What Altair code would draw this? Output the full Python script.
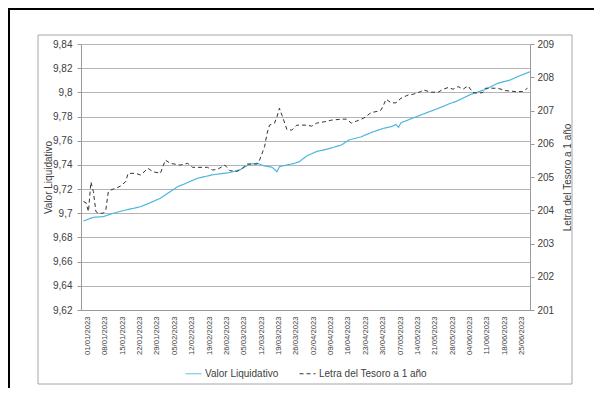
import altair as alt
import pandas as pd
from datetime import datetime, timezone

SERIES = ["Valor Liquidativo", "Letra del Tesoro a 1 año"]
COLORS = ["#4db6df", "#333333"]

FECHAS_VL = ["2023-01-01", "2023-01-05", "2023-01-09", "2023-01-13", "2023-01-18", "2023-01-24",
             "2023-01-28", "2023-02-01", "2023-02-04", "2023-02-08", "2023-02-12", "2023-02-16",
             "2023-02-22", "2023-03-01", "2023-03-05", "2023-03-09", "2023-03-12", "2023-03-15",
             "2023-03-18", "2023-03-20", "2023-03-21", "2023-03-24", "2023-03-27", "2023-03-29",
             "2023-04-01", "2023-04-05", "2023-04-09", "2023-04-15", "2023-04-18", "2023-04-23",
             "2023-04-27", "2023-05-02", "2023-05-05", "2023-05-07", "2023-05-08", "2023-05-09",
             "2023-05-17", "2023-05-24", "2023-05-29", "2023-05-31", "2023-06-06", "2023-06-12",
             "2023-06-17", "2023-06-22", "2023-06-25", "2023-06-30"]
VALOR_LIQ = [9.6936, 9.6967, 9.6972, 9.7000, 9.7027, 9.7054,
             9.7088, 9.7124, 9.7166, 9.7220, 9.7254, 9.7290,
             9.7318, 9.7337, 9.7359, 9.7406, 9.7413, 9.7391,
             9.7381, 9.7344, 9.7385, 9.7399, 9.7413, 9.7427,
             9.7474, 9.7511, 9.7529, 9.7565, 9.7606, 9.7633,
             9.7668, 9.7703, 9.7716, 9.7734, 9.7711, 9.7749,
             9.7813, 9.7868, 9.7910, 9.7923, 9.7982, 9.8024,
             9.8075, 9.8102, 9.8130, 9.8171]

FECHAS_LT = ["2023-01-01", "2023-01-02", "2023-01-03", "2023-01-04", "2023-01-05", "2023-01-06",
             "2023-01-07", "2023-01-09", "2023-01-10", "2023-01-11", "2023-01-12", "2023-01-14",
             "2023-01-16", "2023-01-18", "2023-01-19", "2023-01-22", "2023-01-24", "2023-01-27",
             "2023-01-29", "2023-02-01", "2023-02-03", "2023-02-05", "2023-02-09", "2023-02-12",
             "2023-02-14", "2023-02-20", "2023-02-22", "2023-02-24", "2023-02-27", "2023-03-01",
             "2023-03-04", "2023-03-06", "2023-03-08", "2023-03-12", "2023-03-13", "2023-03-15",
             "2023-03-16", "2023-03-17", "2023-03-19", "2023-03-20", "2023-03-21", "2023-03-22",
             "2023-03-24", "2023-03-26", "2023-03-28", "2023-04-01", "2023-04-03", "2023-04-05",
             "2023-04-08", "2023-04-11", "2023-04-15", "2023-04-17", "2023-04-19", "2023-04-21",
             "2023-04-24", "2023-04-27", "2023-04-30", "2023-05-01", "2023-05-02", "2023-05-03",
             "2023-05-05", "2023-05-07", "2023-05-09", "2023-05-12", "2023-05-14", "2023-05-17",
             "2023-05-18", "2023-05-21", "2023-05-24", "2023-05-26", "2023-05-28", "2023-05-30",
             "2023-06-01", "2023-06-03", "2023-06-05", "2023-06-07", "2023-06-09", "2023-06-11",
             "2023-06-12", "2023-06-17", "2023-06-20", "2023-06-24", "2023-06-27", "2023-06-29"]
LETRA = [204.26, 204.23, 203.96, 204.85, 204.56, 203.96,
         203.91, 203.91, 204.01, 204.55, 204.61, 204.66,
         204.73, 204.86, 205.11, 205.11, 205.06, 205.26,
         205.16, 205.11, 205.51, 205.41, 205.36, 205.41,
         205.29, 205.29, 205.21, 205.23, 205.36, 205.19,
         205.17, 205.26, 205.39, 205.39, 205.51, 205.91,
         206.31, 206.56, 206.62, 206.81, 207.07, 206.86,
         206.43, 206.41, 206.56, 206.56, 206.53, 206.62,
         206.66, 206.71, 206.74, 206.74, 206.62, 206.68,
         206.77, 206.94, 206.98, 207.02, 207.17, 207.34,
         207.23, 207.23, 207.37, 207.47, 207.49, 207.57,
         207.62, 207.55, 207.55, 207.64, 207.69, 207.64,
         207.72, 207.64, 207.74, 207.54, 207.52, 207.54,
         207.67, 207.67, 207.60, 207.57, 207.57, 207.67]

LEFT_TICKS = [9.62, 9.64, 9.66, 9.68, 9.70, 9.72, 9.74, 9.76, 9.78, 9.80, 9.82, 9.84]
RIGHT_TICKS = [201, 202, 203, 204, 205, 206, 207, 208, 209]
X_TICKS = ["2023-01-01", "2023-01-08", "2023-01-15", "2023-01-22", "2023-01-29", "2023-02-05",
           "2023-02-12", "2023-02-19", "2023-02-26", "2023-03-05", "2023-03-12", "2023-03-19",
           "2023-03-26", "2023-04-02", "2023-04-09", "2023-04-16", "2023-04-23", "2023-04-30",
           "2023-05-07", "2023-05-14", "2023-05-21", "2023-05-28", "2023-06-04", "2023-06-11",
           "2023-06-18", "2023-06-25"]
X_DOMAIN = ["2022-12-31", "2023-06-30"]


def ms(s):
    return int(datetime.strptime(s, "%Y-%m-%d").replace(tzinfo=timezone.utc).timestamp() * 1000)


df_v = pd.DataFrame({"fecha": [ms(d) for d in FECHAS_VL], "valor": VALOR_LIQ, "serie": SERIES[0]})
df_l = pd.DataFrame({"fecha": [ms(d) for d in FECHAS_LT], "letra": LETRA, "serie": SERIES[1]})

FONT = "Liberation Sans"
TXT = "#404040"
AX = "#9a9a9a"
W, H = 449, 266

x_enc = alt.X(
    "fecha:T",
    scale=alt.Scale(type="utc", domain=[ms(X_DOMAIN[0]), ms(X_DOMAIN[1])]),
    axis=alt.Axis(
        values=[ms(d) for d in X_TICKS],
        labelExpr="utcFormat(datum.value, '%d/%m/%Y')",
        labelAngle=270, labelAlign="right", labelBaseline="middle",
        labelFontSize=7.7, labelPadding=6, labelColor=TXT, labelFont=FONT,
        labelOffset=4,
        ticks=False, grid=False, domainColor=AX, title=None, labelOverlap=False,
        labelBound=False, labelFlush=False,
    ),
)

color_enc = alt.Color(
    "serie:N",
    scale=alt.Scale(domain=SERIES, range=COLORS),
    legend=alt.Legend(
        title=None, orient="none", direction="horizontal", legendX=104, legendY=321,
        symbolType="stroke", symbolSize=256, symbolStrokeWidth=1, labelFontSize=10,
        labelFont=FONT, labelColor=TXT, columnPadding=18, labelOffset=3, padding=0,
    ),
)
dash_enc = alt.StrokeDash("serie:N", scale=alt.Scale(domain=SERIES, range=[[1, 0], [4, 3]]), legend=None)

blue = alt.Chart(df_v).mark_line(strokeWidth=1.2).encode(
    x=x_enc,
    y=alt.Y(
        "valor:Q",
        scale=alt.Scale(domain=[9.62, 9.84], nice=False, zero=False),
        axis=alt.Axis(
            values=LEFT_TICKS,
            labelExpr="replace(format(datum.value, '.2~f'), '.', ',')",
            title="Valor Liquidativo", titleAngle=270, titleX=-33, titleY=H / 2,
            titleBaseline="middle", titleAlign="center",
            titleFontSize=10, titleFontWeight="normal", titleColor=TXT, titleFont=FONT,
            labelFontSize=10, labelColor=TXT, labelFont=FONT, labelPadding=5,
            tickSize=4, tickColor=AX, domainColor=AX,
            grid=True, gridColor="#b4b4b4", gridWidth=1,
        ),
    ),
    color=color_enc,
    strokeDash=dash_enc,
)

black = alt.Chart(df_l).mark_line(strokeWidth=1).encode(
    x=x_enc,
    y=alt.Y(
        "letra:Q",
        scale=alt.Scale(domain=[201, 209], nice=False, zero=False),
        axis=alt.Axis(
            orient="right", values=RIGHT_TICKS, format="d",
            title="Letra del Tesoro a 1 año", titleAngle=270, titleX=37, titleY=H / 2,
            titleBaseline="middle", titleAlign="center",
            titleFontSize=10, titleFontWeight="normal", titleColor=TXT, titleFont=FONT,
            labelFontSize=10, labelColor=TXT, labelFont=FONT, labelPadding=3,
            tickSize=4, tickColor=AX, domainColor=AX, grid=False,
        ),
    ),
    color=color_enc,
    strokeDash=dash_enc,
)

box = pd.DataFrame({"k": [0]})
frame = alt.Chart(box).mark_rect(fill=None, stroke="#a6a6a6", strokeWidth=1).encode(
    x=alt.value(-43), x2=alt.value(491), y=alt.value(-9), y2=alt.value(340)
)
outer_left = alt.Chart(box).mark_rule(color="black", strokeWidth=2).encode(
    x=alt.value(-72), y=alt.value(-36), y2=alt.value(344)
)
outer_top = alt.Chart(box).mark_rule(color="black", strokeWidth=2).encode(
    x=alt.value(-73), x2=alt.value(513), y=alt.value(-35)
)

chart = alt.layer(frame, outer_left, outer_top, blue, black).resolve_scale(
    y="independent"
).properties(
    width=W, height=H,
    autosize=alt.AutoSizeParams(type="none"),
    padding={"left": 73, "top": 36, "right": 64, "bottom": 78},
).configure_view(stroke=None)

chart.save("out.html", embed_options={"renderer": "svg", "actions": False})
